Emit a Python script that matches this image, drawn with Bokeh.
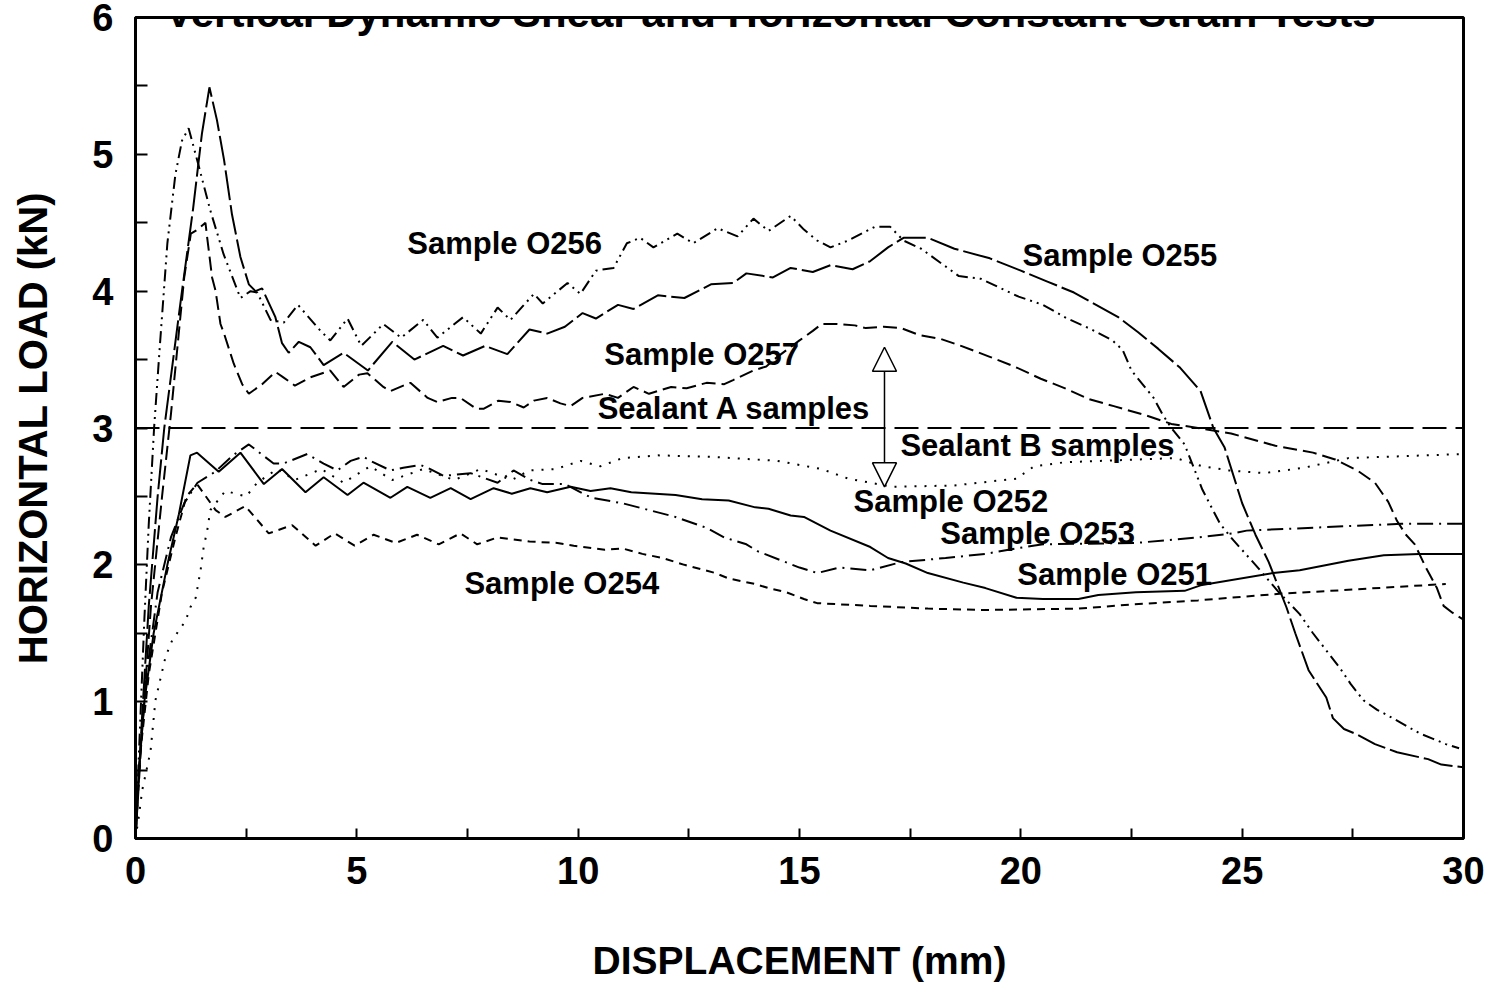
from bokeh.plotting import figure
from bokeh.models import Range1d, FixedTicker, Label, Span, Arrow, NormalHead
from bokeh.embed import file_html
from bokeh.resources import INLINE

# ---------------- data ----------------
title_text = "Vertical Dynamic Shear and Horizontal Constant Strain Tests"
x_label = "DISPLACEMENT (mm)"
y_label = "HORIZONTAL LOAD (kN)"
x_ticks = [0, 5, 10, 15, 20, 25, 30]
y_ticks = [0, 1, 2, 3, 4, 5, 6]
separator_load = 3.0

o251_x = [0, 0.08, 0.2, 0.41, 0.72, 0.98, 1.24, 1.39, 1.88, 2.37, 2.9, 3.31, 3.84, 4.25, 4.79, 5.15,
          5.76, 6.14, 6.66, 7.12, 7.57, 8.09, 8.5, 8.92, 9.3, 9.83, 10.28, 10.73, 11.2, 12.2, 12.8,
          13.4, 14.0, 14.3, 14.8, 15.1, 15.7, 16.6, 17.0, 17.4, 17.9, 18.7, 19.2, 19.9, 20.5, 21.3,
          21.75, 22.6, 23.7, 24.06, 25.7, 26.3, 27.4, 28.2, 29.0, 30.0]
o251_y = [0, 0.5, 1.0, 1.5, 2.0, 2.37, 2.8, 2.82, 2.68, 2.82, 2.59, 2.7, 2.53, 2.64, 2.51, 2.6,
          2.49, 2.57, 2.49, 2.56, 2.48, 2.56, 2.52, 2.56, 2.53, 2.57, 2.54, 2.56, 2.53, 2.51, 2.48,
          2.47, 2.42, 2.41, 2.36, 2.35, 2.25, 2.13, 2.05, 2.01, 1.94, 1.87, 1.83, 1.76, 1.75, 1.75,
          1.78, 1.8, 1.81, 1.85, 1.94, 1.96, 2.03, 2.07, 2.08, 2.08]

o252_x = [0, 0.075, 0.15, 0.34, 0.45, 0.68, 0.83, 1.13, 1.24, 1.36, 1.47, 1.54, 1.62, 1.69, 2.03,
          2.5, 2.75, 3.2, 3.6, 4.2, 4.7, 5.3, 5.8, 6.5, 7.2, 7.8, 8.5, 8.9, 9.5, 10.05, 10.5, 11.0,
          11.8, 13.0, 14.5, 15.5, 16.1, 17.1, 18.5, 19.9, 20.3, 21.0, 23.5, 24.1, 24.7, 25.5, 26.4,
          27.4, 30.0]
o252_y = [0, 0.16, 0.35, 0.64, 1.01, 1.33, 1.45, 1.59, 1.69, 1.76, 1.96, 2.13, 2.25, 2.4, 2.54,
          2.5, 2.6, 2.7, 2.62, 2.7, 2.6, 2.72, 2.62, 2.7, 2.62, 2.7, 2.62, 2.69, 2.7, 2.76, 2.72, 2.78,
          2.8, 2.79, 2.76, 2.7, 2.63, 2.57, 2.58, 2.63, 2.72, 2.75, 2.78, 2.72, 2.69, 2.67, 2.71,
          2.78, 2.81]

o253_x = [0, 0.1, 0.25, 0.5, 0.8, 1.1, 1.4, 1.8, 2.2, 2.56, 3.12, 3.34, 3.88, 4.25, 4.56, 4.86,
          5.15, 5.3, 5.76, 6.05, 6.44, 6.66, 6.96, 7.57, 8.18, 8.54, 8.92, 9.2, 9.7, 10.3, 11.0,
          11.6, 12.2, 12.9, 13.3, 13.8, 14.05, 15.0, 15.4, 15.9, 16.6, 17.3, 18.3, 19.2, 19.9,
          20.5, 22.6, 24.0, 24.8, 25.1, 28.6, 30.0]
o253_y = [0, 0.6, 1.2, 1.8, 2.2, 2.45, 2.6, 2.68, 2.8, 2.88, 2.74, 2.74, 2.81, 2.74, 2.69, 2.76,
          2.79, 2.76, 2.69, 2.71, 2.73, 2.7, 2.65, 2.67, 2.6, 2.69, 2.62, 2.59, 2.59, 2.49, 2.45,
          2.4, 2.35, 2.27, 2.2, 2.15, 2.1, 1.98, 1.94, 1.98, 1.96, 2.02, 2.05, 2.08, 2.12,
          2.15, 2.16, 2.2, 2.23, 2.25, 2.3, 2.3]

o254_x = [0, 0.1, 0.3, 0.6, 0.9, 1.15, 1.39, 1.81, 2.03, 2.48, 3.01, 3.54, 4.07, 4.5, 4.95, 5.38,
          5.88, 6.36, 6.85, 7.34, 7.72, 8.18, 8.9, 9.53, 9.9, 10.6, 11.0, 11.45, 11.9, 12.4, 13.1,
          13.4, 14.0, 14.3, 14.7, 15.1, 15.4, 16.6, 17.9, 19.2, 21.3, 22.5, 24.0, 25.9, 27.0, 29.6]
o254_y = [0, 0.6, 1.2, 1.8, 2.2, 2.5, 2.59, 2.4, 2.35, 2.43, 2.23, 2.29, 2.14, 2.23, 2.14, 2.22,
          2.16, 2.22, 2.15, 2.23, 2.15, 2.2, 2.17, 2.16, 2.14, 2.11, 2.12, 2.08, 2.05, 2.0, 1.94,
          1.9, 1.86, 1.83, 1.8, 1.75, 1.72, 1.7, 1.68, 1.67, 1.68, 1.71, 1.74, 1.79, 1.81, 1.86]

o255_x = [0, 0.15, 0.3, 0.5, 0.65, 0.85, 1.05, 1.3, 1.5, 1.67, 1.84, 2.0, 2.18, 2.37, 2.56, 2.71,
          2.86, 3.16, 3.31, 3.46, 3.69, 3.95, 4.25, 4.7, 5.25, 5.8, 6.3, 6.95, 7.4, 7.9, 8.4, 8.9,
          9.3, 9.7, 10.1, 10.4, 10.9, 11.25, 11.8, 12.4, 13.0, 13.5, 13.8, 14.4, 14.8, 15.3, 15.7,
          16.2, 16.6, 17.0, 17.35, 17.9, 18.5, 19.3, 20.0, 20.6, 21.2, 21.7, 22.2, 22.65, 23.1,
          23.6, 24.06, 24.35, 24.6, 25.0, 25.3, 25.6, 26.0, 26.2, 26.5, 26.9, 27.05, 27.3, 27.6,
          28.0, 28.5, 29.2, 29.5, 30.0]
o255_y = [0, 0.9, 1.7, 2.5, 3.0, 3.5, 4.0, 4.6, 5.15, 5.49, 5.25, 4.96, 4.56, 4.25, 4.05, 4.0,
          4.02, 3.81, 3.62, 3.55, 3.63, 3.59, 3.46, 3.55, 3.42, 3.63, 3.5, 3.6, 3.53, 3.6, 3.54, 3.72,
          3.69, 3.74, 3.84, 3.8, 3.9, 3.87, 3.97, 3.95, 4.05, 4.06, 4.13, 4.1, 4.17, 4.14, 4.19,
          4.16, 4.22, 4.32, 4.39, 4.39, 4.31, 4.24, 4.15, 4.07, 3.99, 3.9, 3.81, 3.7, 3.58,
          3.44, 3.27, 3.0, 2.86, 2.45, 2.22, 2.02, 1.69, 1.5, 1.23, 1.03, 0.88, 0.8, 0.76,
          0.69, 0.63, 0.58, 0.54, 0.52]

o256_x = [0, 0.1, 0.2, 0.3, 0.42, 0.55, 0.72, 0.9, 1.05, 1.2, 1.4, 1.69, 1.99, 2.37, 2.6, 2.75,
          3.05, 3.35, 3.67, 4.18, 4.4, 4.79, 5.1, 5.6, 6.0, 6.5, 6.82, 7.4, 7.8, 8.18, 8.47, 9.0,
          9.2, 9.76, 10.05, 10.4, 10.8, 11.1, 11.4, 11.7, 12.24, 12.6, 13.15, 13.6, 13.96, 14.3,
          14.8, 15.1, 15.4, 15.7, 16.1, 16.4, 16.7, 17.05, 17.35, 17.75, 18.6, 19.1, 19.95, 20.5,
          21.05, 21.6, 22.07, 22.3, 22.5, 23.0, 23.2, 23.4, 23.7, 24.1, 24.5, 24.8, 25.3, 25.8,
          26.3, 26.6, 27.2, 27.45, 27.74, 28.05, 28.4, 29.0, 29.3, 29.6, 29.9]
o256_y = [0, 0.8, 1.6, 2.3, 3.0, 3.6, 4.35, 4.85, 5.1, 5.19, 4.95, 4.59, 4.27, 3.95, 4.0, 3.99,
          3.79, 3.77, 3.9, 3.71, 3.64, 3.8, 3.6, 3.76, 3.66, 3.79, 3.66, 3.81, 3.69, 3.88, 3.79, 3.98,
          3.91, 4.06, 3.98, 4.15, 4.17, 4.35, 4.39, 4.32, 4.42, 4.35, 4.46, 4.4, 4.53, 4.44,
          4.55, 4.45, 4.37, 4.32, 4.37, 4.42, 4.47, 4.47, 4.37, 4.31, 4.11, 4.09, 3.96, 3.9,
          3.8, 3.72, 3.64, 3.57, 3.42, 3.22, 3.1, 3.0, 2.88, 2.55, 2.3, 2.18, 2.0, 1.81,
          1.64, 1.5, 1.25, 1.13, 1.01, 0.94, 0.88, 0.77, 0.73, 0.69, 0.66]

o257_x = [0, 0.15, 0.35, 0.6, 0.8, 0.95, 1.1, 1.25, 1.4, 1.58, 1.62, 1.73, 1.81, 1.92, 2.0, 2.15,
          2.22, 2.41, 2.56, 2.86, 3.16, 3.34, 3.6, 3.95, 4.4, 4.7, 5.05, 5.24, 5.6, 5.76, 6.05, 6.21,
          6.6, 6.82, 7.15, 7.34, 7.7, 7.86, 8.2, 8.47, 8.77, 9.0, 9.3, 9.6, 9.83, 10.1, 10.6, 10.9,
          11.25, 11.6, 12.1, 12.45, 12.9, 13.3, 13.5, 13.96, 14.25, 14.5, 15.0, 15.3, 15.5, 15.85,
          16.25, 16.5, 16.9, 17.3, 17.7, 18.2, 18.65, 19.3, 19.85, 20.45, 21.0, 21.55, 22.1, 22.85,
          23.4, 24.0, 24.75, 25.75, 26.6, 27.1, 27.6, 28.0, 28.3, 28.5, 28.7, 28.9, 29.15, 29.4,
          29.55, 29.75, 30.0]
o257_y = [0, 0.8, 1.7, 2.5, 3.1, 3.6, 4.1, 4.42, 4.45, 4.5, 4.39, 4.1, 4.0, 3.76, 3.69, 3.54,
          3.47, 3.32, 3.25, 3.32, 3.41, 3.37, 3.31, 3.37, 3.42, 3.3, 3.39, 3.4, 3.3, 3.27, 3.31, 3.33,
          3.22, 3.19, 3.22, 3.22, 3.14, 3.14, 3.2, 3.19, 3.15, 3.2, 3.22, 3.18, 3.16, 3.22, 3.25, 3.22,
          3.3, 3.25, 3.3, 3.29, 3.33, 3.32, 3.35, 3.42, 3.45, 3.52, 3.64, 3.71, 3.76, 3.76,
          3.75, 3.73, 3.74, 3.73, 3.68, 3.65, 3.6, 3.52, 3.45, 3.36, 3.29, 3.21, 3.16, 3.09,
          3.03, 3.0, 2.96, 2.87, 2.82, 2.77, 2.69, 2.6, 2.46, 2.32, 2.22, 2.15, 1.98, 1.83,
          1.7, 1.65, 1.6]

series_names = ["O251", "O252", "O253", "O254", "O255", "O256", "O257"]
series_x = [o251_x, o252_x, o253_x, o254_x, o255_x, o256_x, o257_x]
series_y = [o251_y, o252_y, o253_y, o254_y, o255_y, o256_y, o257_y]

label_texts = ["Sample O256", "Sample O255", "Sample O257", "Sealant A samples", "Sealant B samples",
               "Sample O252", "Sample O253", "Sample O251", "Sample O254"]

# ---------------- styles and positions ----------------
dashes = {"O251": "solid", "O252": "2 8", "O253": "16 6 2 6", "O254": "8 6",
          "O255": "30 5", "O256": "12 5 2 5 2 5", "O257": "14 6"}
label_pos = [(6.14, 4.35), (20.04, 4.26), (10.59, 3.54), (10.44, 3.14), (17.28, 2.87),
             (16.22, 2.46), (18.18, 2.23), (19.92, 1.93), (7.43, 1.86)]
FONT = "Liberation Sans"

p = figure(width=1490, height=985, x_range=Range1d(0, 30), y_range=Range1d(0, 6),
           output_backend="svg", toolbar_location=None,
           min_border_left=135, min_border_right=27, min_border_top=17, min_border_bottom=147)
p.xgrid.visible = False
p.ygrid.visible = False
p.outline_line_color = "black"
p.outline_line_width = 3
p.background_fill_color = "white"
p.border_fill_color = "white"

for ax in (p.xaxis[0], p.yaxis[0]):
    ax.axis_line_color = "black"
    ax.axis_line_width = 3
    ax.major_tick_out = 0
    ax.minor_tick_out = 0
    ax.major_tick_line_width = 2
    ax.minor_tick_line_width = 2
    ax.major_label_text_font = FONT
    ax.major_label_text_font_style = "bold"
    ax.major_label_text_font_size = "38px"
    ax.major_label_text_color = "black"
    ax.axis_label_text_font = FONT
    ax.axis_label_text_font_style = "bold"
    ax.axis_label_text_color = "black"

p.xaxis.ticker = FixedTicker(ticks=x_ticks, minor_ticks=[2.5, 7.5, 12.5, 17.5, 22.5, 27.5])
p.yaxis.ticker = FixedTicker(ticks=y_ticks, minor_ticks=[0.5, 1.5, 2.5, 3.5, 4.5, 5.5])
p.xaxis.major_tick_in = 10
p.xaxis.minor_tick_in = 10
p.yaxis.major_tick_in = 12
p.yaxis.minor_tick_in = 12
p.xaxis.major_label_standoff = 18
p.yaxis.major_label_standoff = 22
p.xaxis.axis_label = x_label
p.yaxis.axis_label = y_label
p.xaxis.axis_label_text_font_size = "39px"
p.yaxis.axis_label_text_font_size = "40px"
p.xaxis.axis_label_standoff = 52
p.yaxis.axis_label_standoff = 34

p.add_layout(Span(location=separator_load, dimension="width", line_color="black",
                  line_width=2, line_dash="24 9"))

for name, xs, ys in zip(series_names, series_x, series_y):
    p.line(xs, ys, line_color="black", line_width=2, line_dash=dashes[name])

p.add_layout(Arrow(start=NormalHead(size=24, fill_color="white", line_color="black", line_width=1.5),
                   end=NormalHead(size=24, fill_color="white", line_color="black", line_width=1.5),
                   x_start=16.92, y_start=2.57, x_end=16.92, y_end=3.59,
                   line_color="black", line_width=1.5))

for txt, (lx, ly) in zip(label_texts, label_pos):
    p.add_layout(Label(x=lx, y=ly, text=txt, text_align="left", text_baseline="middle",
                       text_font=FONT, text_font_style="bold", text_font_size="31px",
                       text_color="black"))

p.add_layout(Label(x=14.34, y=6.035, text=title_text, text_align="center",
                   text_baseline="alphabetic", text_font=FONT, text_font_style="bold",
                   text_font_size="42px", text_color="black"))

open("out.html", "w").write(file_html(p, INLINE))
